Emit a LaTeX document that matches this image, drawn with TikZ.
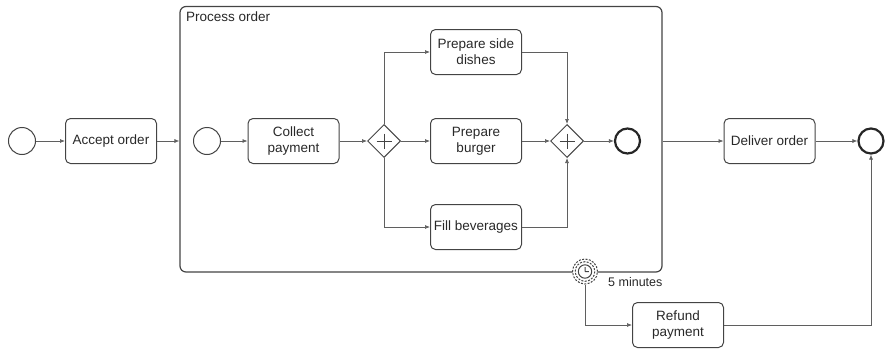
\documentclass[tikz,border=0pt]{standalone}
\usepackage{fontspec}
\setmainfont{Liberation Sans}
\usepackage{tikz}
\usetikzlibrary{shapes.geometric, arrows.meta, positioning}
\definecolor{bpmnline}{RGB}{68,68,68}
\definecolor{bpmnflow}{RGB}{95,95,95}
\definecolor{bpmntext}{RGB}{40,40,40}
\tikzstyle{flow} = [-{Latex[length=5pt, width=4pt]}, draw=bpmnflow, line width=0.7pt]
\tikzset{
    task/.style={draw=bpmnline, line width=1pt, rounded corners=5pt,
        minimum width=91pt, minimum height=45pt, align=center,
        font=\fontsize{13.5}{16}\selectfont, text=bpmntext},
    startev/.style={circle, draw=bpmnline, line width=1pt,
        minimum size=27pt, inner sep=0pt},
    endev/.style={circle, draw=black!85, line width=2.2pt,
        minimum size=25pt, inner sep=0pt},
    gateway/.style={diamond, draw=bpmnline, line width=1pt,
        minimum size=33pt, inner sep=0pt},
    plussign/.style={draw=bpmnline, line width=0.9pt},
    timerring/.style={draw=bpmnline, line width=1pt,
        dash pattern=on 2pt off 1.4pt},
}

\begin{document}
\begin{tikzpicture}[x=1pt, y=-1pt]
            \useasboundingbox (0,0) rectangle (885,348);

            % top level start and task
            \node[startev] (start) at (22,141) {};
            \node[task] (accept) at (111,141) {Accept order};

            % sub-process frame
            \node[draw=bpmnline, line width=1.2pt, rounded corners=6pt,
                minimum width=482pt, minimum height=265.5pt, inner sep=0pt]
            (proc) at (421,139.25) {};
            \node[anchor=north west, inner sep=0pt, text=bpmntext,
                font=\fontsize{13.5}{16}\selectfont]
            (proctitle) at (186,11.5) {Process order};

            % inside the sub-process
            \node[startev] (pstart) at (207,141) {};
            \node[task] (collect) at (293.5,141) {Collect\\payment};
            \node[gateway] (split) at (384,141) {};
            \node[task] (side) at (476,52) {Prepare side\\dishes};
            \node[task] (burger) at (476,141) {Prepare\\burger};
            \node[task] (bev) at (476,227) {Fill beverages};
            \node[gateway] (join) at (567,141) {};
            \node[endev] (pend) at (627.5,141) {};

            % parallel markers
            \draw[plussign] (split.center) +(-7.5,0) -- +(7.5,0)
                (split.center) +(0,-7.5) -- +(0,7.5);
            \draw[plussign] (join.center) +(-7.5,0) -- +(7.5,0)
                (join.center) +(0,-7.5) -- +(0,7.5);

            % delivery and end
            \node[task] (deliver) at (769.5,141) {Deliver order};
            \node[endev] (end) at (871,141) {};

            % timer on the sub-process border
            \node[circle, timerring, fill=white,
                minimum size=25pt, inner sep=0pt] (timer) at (585,271.5) {};
            \draw[timerring] (timer.center) circle (9.8);
            \draw[bpmnline, line width=1pt] (timer.center) circle (6.7)
                (timer.center) -- +(0,-4.5) (timer.center) -- +(3.8,0);
            \node[anchor=west, inner sep=0pt, text=bpmntext,
                font=\fontsize{12.5}{15}\selectfont]
            (timeout) at (608,282) {5 minutes};
            \node[task] (refund) at (678,325) {Refund\\payment};

            % sequence flows
            \draw[flow] (start) -- (accept);
            \draw[flow] (accept) -- (accept -| proc.west);
            \draw[flow] (pstart) -- (collect);
            \draw[flow] (collect) -- (split);
            \draw[flow] (split) -- (burger);
            \draw[flow] (split.north) |- (side);
            \draw[flow] (split.south) |- (bev);
            \draw[flow] (side) -| (join.north);
            \draw[flow] (burger) -- (join);
            \draw[flow] (bev) -| (join.south);
            \draw[flow] (join) -- (pend);
            \draw[flow] (deliver -| proc.east) -- (deliver);
            \draw[flow] (deliver) -- (end);
            \draw[flow] (timer.south) |- (refund);
            \draw[flow] (refund) -| (end.south);
        \end{tikzpicture}
\end{document}
